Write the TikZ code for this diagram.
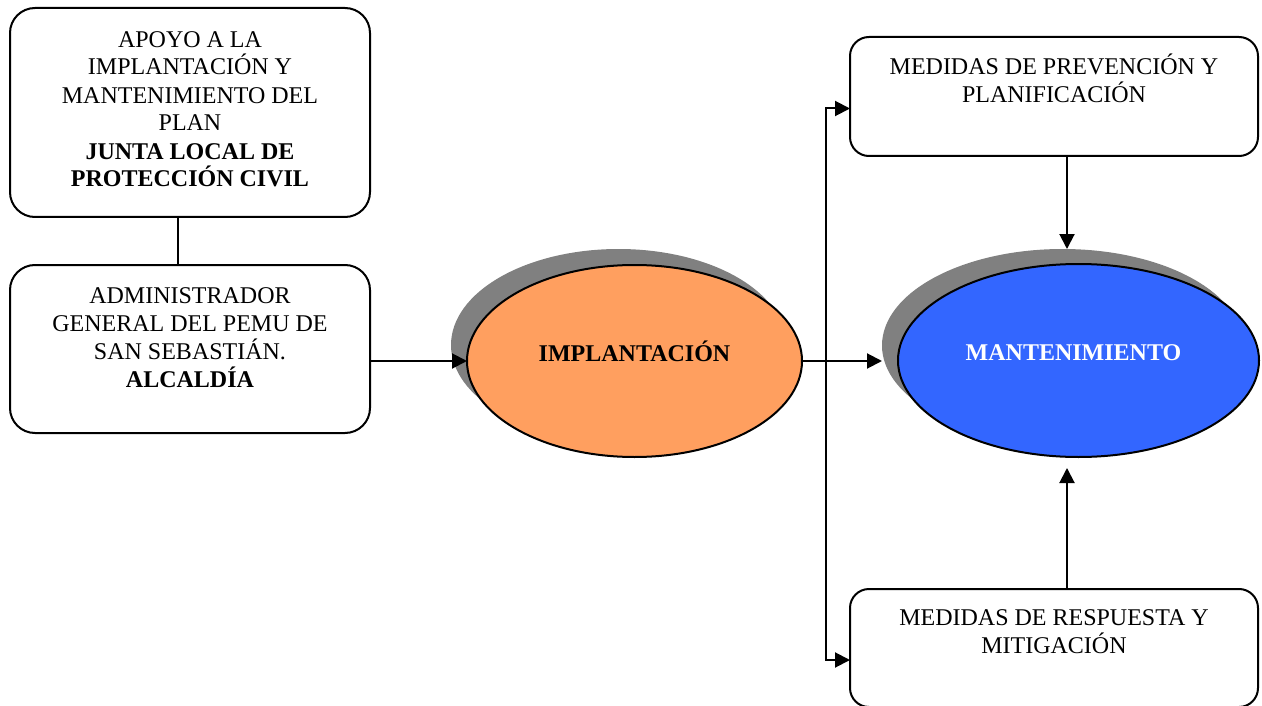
\documentclass[tikz,border=0pt]{standalone}
\usepackage{fontspec}
\setmainfont{Liberation Serif}
\usetikzlibrary{arrows.meta,shapes.geometric}
\definecolor{implorange}{HTML}{FF9F5F}
\definecolor{mantblue}{HTML}{3366FF}
\definecolor{shadowgray}{HTML}{808080}
\begin{document}
\begin{tikzpicture}[x=1pt,y=-1pt,line width=2pt,
  every node/.style={inner sep=0pt,outer sep=0pt},
  leftbox/.style={draw,rounded corners=25pt,minimum width=360pt},
  rightbox/.style={draw,rounded corners=19pt,minimum width=408pt},
  txt/.style={anchor=base,align=center,font=\fontsize{24}{28}\selectfont},
  shade/.style={ellipse,fill=shadowgray},
  oval/.style={ellipse,draw},
  arr/.style={-{Triangle[length=15pt,width=15pt]}}]
\useasboundingbox (0,0) rectangle (1262,706);
% boxes
\node[leftbox,minimum height=209pt] (b1) at (190,112.5) {};
\node[leftbox,minimum height=168pt] (b2) at (190,349) {};
\node[rightbox,minimum height=119pt] (prev) at (1054,96.5) {};
\node[rightbox,minimum height=118pt] (resp) at (1054,648) {};
% ellipses with shadows
\node[shade,minimum width=335pt,minimum height=192pt] (impls) at (618.5,345) {};
\node[oval,fill=implorange,minimum width=335pt,minimum height=192pt] (impl) at (634.5,361) {};
\node[shade,minimum width=361pt,minimum height=193pt] (mants) at (1062.5,345.5) {};
\node[oval,fill=mantblue,minimum width=361pt,minimum height=193pt] (mant) at (1078.5,360.5) {};
% texts (anchor base = baseline of last line)
\node[txt] (t1) at (190,187) {APOYO A LA\\IMPLANTACIÓN Y\\MANTENIMIENTO DEL\\PLAN\\\textbf{JUNTA LOCAL DE}\\\textbf{PROTECCIÓN CIVIL}};
\node[txt] (t2) at (190,387) {ADMINISTRADOR\\GENERAL DEL PEMU DE\\SAN SEBASTIÁN.\\\textbf{ALCALDÍA}};
\node[txt] (t3) at (1054,103) {MEDIDAS DE PREVENCIÓN Y\\PLANIFICACIÓN};
\node[txt] (t4) at (1054,653) {MEDIDAS DE RESPUESTA Y\\MITIGACIÓN};
\node[txt] (t5) at (impl.center) {\textbf{IMPLANTACIÓN}};
\node[txt,text=white] (t6) at ([xshift=-5pt]mant.center) {\textbf{MANTENIMIENTO}};
% connectors
\draw ([xshift=-12pt]b1.south) -- ([xshift=-12pt]b2.north);
\draw[arr] (b2.east |- impl.west) -- (impl.west);
\draw[arr] (impl.east) -- (impl.east -| mants.west);
\coordinate (j) at ([xshift=24pt]impl.east);
\draw[arr] (j) |- ([yshift=-12pt]prev.west);
\draw[arr] (j) |- ([yshift=-12pt]resp.west);
\draw[arr] ([xshift=13pt]prev.south) -- ([xshift=13pt]prev.south |- mants.north);
\draw[arr,shorten >=11pt] ([xshift=13pt]resp.north) -- ([xshift=13pt]resp.north |- mant.south);
\end{tikzpicture}
\end{document}
